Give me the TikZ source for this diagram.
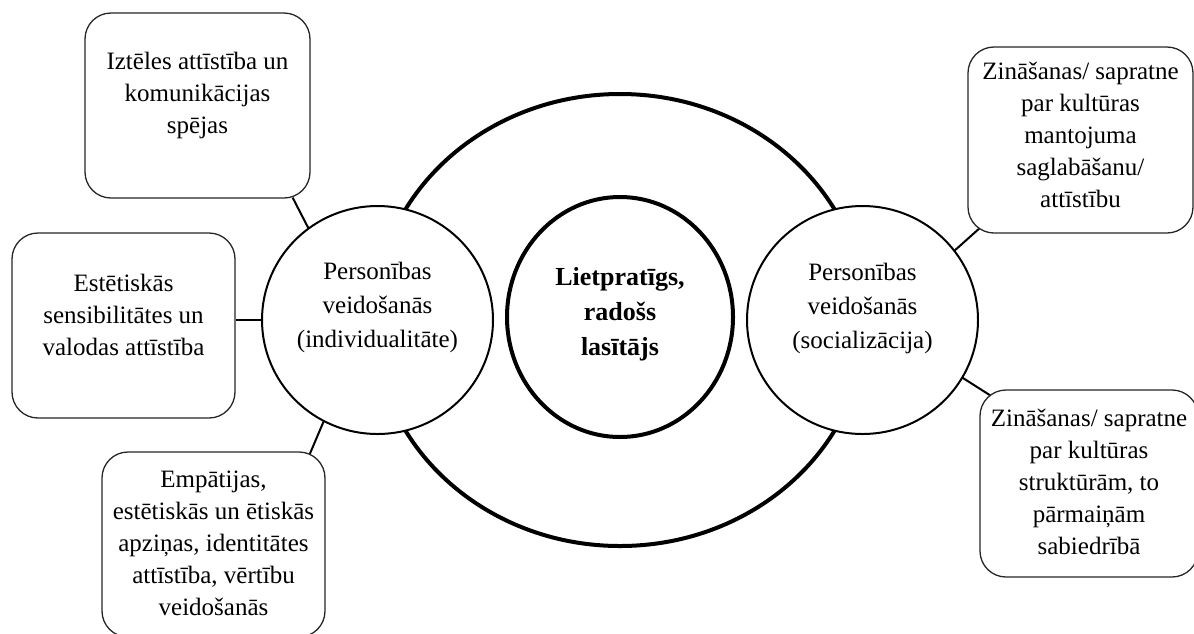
\documentclass[tikz,border=0pt]{standalone}
\usepackage{fontspec}
\setmainfont{Liberation Serif}
\usetikzlibrary{shapes.geometric,backgrounds}

\begin{document}
\begin{tikzpicture}[x=1pt,y=-1pt,
  ring/.style={ellipse,draw,fill=white,inner sep=0pt,outer sep=0pt},
  card/.style={draw=black!85,line width=1.3pt,rounded corners=26pt,fill=white,inner sep=0pt},
  link/.style={line width=2pt},
  boxtext/.style={align=center,inner sep=0pt,font=\fontsize{25}{32}\selectfont},
  ringtext/.style={align=center,inner sep=0pt,font=\fontsize{25}{34}\selectfont},
]
\useasboundingbox (0,0) rectangle (1194,633);

% circles
\node[ring, line width=4pt, minimum width=492pt, minimum height=452pt] (outer) at (620,320) {};
\node[ring, line width=4pt, minimum width=226pt, minimum height=240pt] (core) at (620,317) {};
\node[ring, line width=2pt, minimum width=231pt, minimum height=228pt] (left) at (377.5,320) {};
\node[ring, line width=2pt, minimum width=231pt, minimum height=228pt] (right) at (862.5,320) {};

\node[ringtext] (tleft) at (377.5,307) {Personības\\veidošanās\\(individualitāte)};
\node[ringtext] (tright) at (862.5,308) {Personības\\veidošanās\\(socializācija)};
\node[ringtext, font=\bfseries\fontsize{26}{35}\selectfont] (tcore) at (620,314) {Lietpratīgs,\\radošs\\lasītājs};

% rounded boxes
\node[card, minimum width=225pt, minimum height=185pt] (b1) at (197.5,105.5) {};
\node[card, minimum width=223pt, minimum height=185pt] (b2) at (123.5,325.5) {};
\node[card, minimum width=223pt, minimum height=185pt] (b3) at (213.5,544.5) {};
\node[card, minimum width=225pt, minimum height=186pt] (b4) at (1080.5,140) {};
\node[card, minimum width=218pt, minimum height=187pt] (b5) at (1089,483.5) {};

\node[boxtext] (t1) at (197.5,95.5) {Iztēles attīstība un\\komunikācijas\\spējas};
\node[boxtext] (t2) at (123.5,314.5) {Estētiskās\\sensibilitātes un\\valodas attīstība};
\node[boxtext] (t3) at (213.5,543) {Empātijas,\\estētiskās un ētiskās\\apziņas, identitātes\\attīstība, vērtību\\veidošanās};
\node[boxtext] (t4) at (1080.5,135) {Zināšanas/ sapratne\\par kultūras\\mantojuma\\saglabāšanu/\\attīstību};
\node[boxtext] (t5) at (1089,482) {Zināšanas/ sapratne\\par kultūras\\struktūrām, to\\pārmaiņām\\sabiedrībā};

% connectors
\begin{scope}[on background layer]
\draw[link] (left.127) -- ([xshift=-18pt,yshift=1pt]b1.south east);
\draw[link] (left.west) -- (left.west -| b2.east);
\draw[link] (left.242.3) -- ([xshift=-16pt,yshift=-3pt]b3.north east);
\draw[link] (right.37.9) -- ([xshift=14pt,yshift=7pt]b4.south west);
\draw[link] (right.-30) -- ([xshift=14pt,yshift=-8pt]b5.north west);
\end{scope}
\end{tikzpicture}
\end{document}
